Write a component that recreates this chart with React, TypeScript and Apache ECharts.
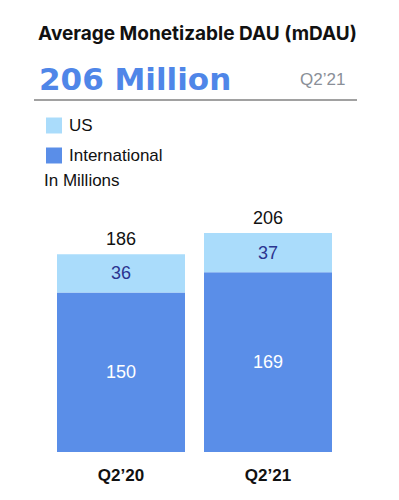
import React, { useEffect, useRef } from "react";
import * as echarts from "echarts";

const categories = ["Q2\u201920", "Q2\u201921"];
const international = [150, 169];
const us = [36, 37];
const totals = [186, 206];

export default function App() {
  const ref = useRef<HTMLDivElement>(null);
  useEffect(() => {
    const chart = echarts.init(ref.current!, null, { renderer: "svg" });
    chart.setOption({
      animation: false,
      backgroundColor: "#ffffff",
      graphic: [
        {
          type: "text",
          left: 38,
          top: 24,
          style: {
            text: "Average Monetizable DAU (mDAU)",
            fontFamily: "Inter",
            fontWeight: "bold",
            fontSize: 19,
            fill: "#111111",
          },
        },
        {
          type: "text",
          left: 39,
          top: 63,
          style: {
            text: "206 Million",
            fontFamily: "DejaVu Sans",
            fontWeight: "bold",
            fontSize: 31,
            fill: "#4f86e8",
          },
        },
        {
          type: "text",
          left: 300,
          top: 71,
          style: {
            text: "Q2\u201921",
            fontFamily: "Liberation Sans",
            fontSize: 17,
            fill: "#8a8f98",
          },
        },
        {
          type: "line",
          shape: { x1: 34, y1: 100, x2: 357, y2: 100 },
          style: { stroke: "#444444", lineWidth: 1.2 },
        },
        {
          type: "text",
          left: 44,
          top: 172,
          style: {
            text: "In Millions",
            fontFamily: "Liberation Sans",
            fontSize: 17,
            fill: "#111111",
          },
        },
      ],
      legend: {
        orient: "vertical",
        left: 46,
        top: 117,
        itemWidth: 16,
        itemHeight: 16,
        itemGap: 13,
        icon: "rect",
        data: ["US", "International"],
        textStyle: {
          fontFamily: "Liberation Sans",
          fontSize: 17,
          color: "#111111",
          padding: [0, 0, 0, 2],
        },
        padding: 0,
      },
      grid: { left: 47.5, right: 57.5, top: 218, bottom: 48 },
      xAxis: {
        type: "category",
        data: categories,
        axisLine: { show: false },
        axisTick: { show: false },
        axisLabel: {
          margin: 15,
          fontFamily: "Liberation Sans",
          fontWeight: "bold",
          fontSize: 17,
          color: "#111111",
        },
      },
      yAxis: {
        type: "value",
        min: 0,
        max: 220,
        show: false,
        splitLine: { show: false },
      },
      series: [
        {
          name: "International",
          type: "bar",
          stack: "dau",
          barWidth: 128,
          data: international,
          itemStyle: { color: "#5a8ee8" },
          label: {
            show: true,
            position: "inside",
            color: "#ffffff",
            fontFamily: "Liberation Sans",
            fontSize: 18,
          },
        },
        {
          name: "US",
          type: "bar",
          stack: "dau",
          barWidth: 128,
          data: us,
          itemStyle: { color: "#aadcfb" },
          label: {
            show: true,
            position: "inside",
            color: "#2b3590",
            fontFamily: "Liberation Sans",
            fontSize: 18,
          },
        },
        {
          name: "Total",
          type: "bar",
          stack: "dau",
          barWidth: 128,
          data: totals.map(() => 0),
          itemStyle: { color: "transparent" },
          label: {
            show: true,
            position: "top",
            distance: 6,
            formatter: (p: any) => String(totals[p.dataIndex]),
            color: "#111111",
            fontFamily: "Liberation Sans",
            fontSize: 18,
          },
        },
      ],
    });
    return () => chart.dispose();
  }, []);
  return (
    <div
      ref={ref}
      style={{ position: "absolute", left: 0, top: 0, width: 399, height: 500 }}
    />
  );
}
